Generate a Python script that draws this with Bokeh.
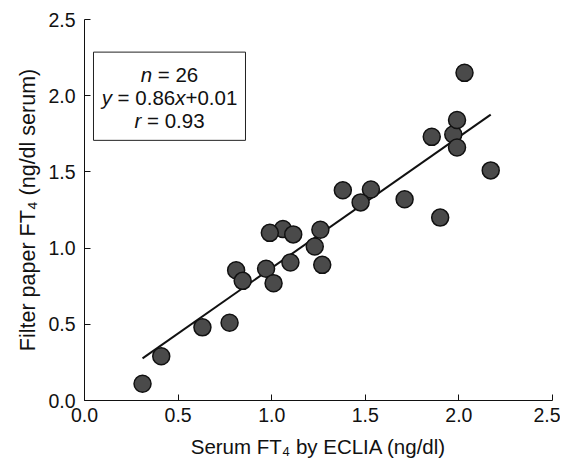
from bokeh.plotting import figure
from bokeh.models import Range1d, FixedTicker, ColumnDataSource
from bokeh.core.properties import value
from bokeh.embed import file_html
from bokeh.resources import INLINE

# Data
serum_ft4 = [0.31, 0.41, 0.63, 0.775, 0.81, 0.845, 0.97, 1.01, 1.10, 1.27, 1.23, 1.26, 1.06,
             1.115, 0.99, 1.38, 1.53, 1.475, 1.71, 1.90, 2.17, 1.855, 1.97, 1.99, 1.99, 2.03]
filter_ft4 = [0.11, 0.29, 0.48, 0.51, 0.855, 0.785, 0.865, 0.77, 0.905, 0.89, 1.01, 1.12, 1.125,
              1.09, 1.10, 1.38, 1.385, 1.30, 1.32, 1.20, 1.51, 1.73, 1.745, 1.84, 1.66, 2.15]

slope = 0.86
intercept = 0.01
fit_x = [0.31, 2.17]
fit_y = [slope * v + intercept for v in fit_x]

ticks = [0.0, 0.5, 1.0, 1.5, 2.0, 2.5]
tick_labels = ["0.0", "0.5", "1.0", "1.5", "2.0", "2.5"]

x_title = "Serum FT\u2084 by ECLIA (ng/dl)"
y_title = "Filter paper FT\u2084 (ng/dl serum)"

stats_lines = [
    [("n", True), (" = 26", False)],
    [("y", True), (" = 0.86", False), ("x", True), ("+0.01", False)],
    [("r", True), (" = 0.93", False)],
]

FONT = "Liberation Sans"
FS = 20.5

p = figure(width=560, height=460, output_backend="svg", toolbar_location=None,
           x_range=Range1d(0, 2.5), y_range=Range1d(0, 2.5),
           min_border_left=84, min_border_right=8, min_border_top=19, min_border_bottom=57)
p.outline_line_color = None
p.xgrid.visible = False
p.ygrid.visible = False
p.background_fill_color = "white"

for ax in (p.xaxis[0], p.yaxis[0]):
    ax.ticker = FixedTicker(ticks=ticks)
    ax.major_label_overrides = {t: l for t, l in zip(ticks, tick_labels)}
    ax.major_tick_in = 6
    ax.major_tick_out = 0
    ax.minor_tick_in = 0
    ax.minor_tick_out = 0
    ax.axis_line_color = "#111111"
    ax.major_tick_line_color = "#111111"
    ax.major_label_text_font = FONT
    ax.major_label_text_font_size = "19.5px"
    ax.major_label_text_color = "#111111"
    ax.axis_label_text_font = FONT
    ax.axis_label_text_font_size = "20.5px"
    ax.axis_label_text_font_style = "normal"
    ax.axis_label_text_color = "#111111"

p.xaxis.axis_label = x_title
p.yaxis.axis_label = y_title
p.yaxis.axis_label_text_font_size = "21.5px"
p.xaxis.major_label_standoff = 7
p.xaxis.axis_label_standoff = 10
p.yaxis.major_label_standoff = 9
p.yaxis.axis_label_standoff = 5

# regression line
p.line(fit_x, fit_y, line_color="#111111", line_width=2)

# points
src = ColumnDataSource(dict(x=serum_ft4, y=filter_ft4))
p.scatter("x", "y", source=src, size=17, fill_color="#4a4a4a", line_color="#111111",
          line_width=1.5)

# stats box
p.quad(left=[0.048], right=[0.86], bottom=[1.707], top=[2.286],
       fill_color="white", line_color="#222222", line_width=1)

# mixed italic text, centered in the box
widths = {"n": 0.556, "y": 0.5, "x": 0.5, "r": 0.333, " ": 0.278, "=": 0.584, "+": 0.584,
          ".": 0.278}
def tw(s):
    return sum(widths.get(c, 0.556) for c in s) * FS

cx = 0.454
line_ys = [2.142, 1.985, 1.838]
for ly, pieces in zip(line_ys, stats_lines):
    total = sum(tw(t) for t, _ in pieces)
    off = -total / 2
    for t, ital in pieces:
        lead = len(t) - len(t.lstrip(" "))
        shown = t.strip(" ")
        p.text(x=[cx], y=[ly], text=[shown], x_offset=off + tw(" " * lead), text_align="left",
               text_baseline="middle", text_font=value(FONT),
               text_font_size=f"{FS}px", text_color="#111111",
               text_font_style="italic" if ital else "normal")
        off += tw(t)

open("out.html", "w").write(file_html(p, INLINE))
